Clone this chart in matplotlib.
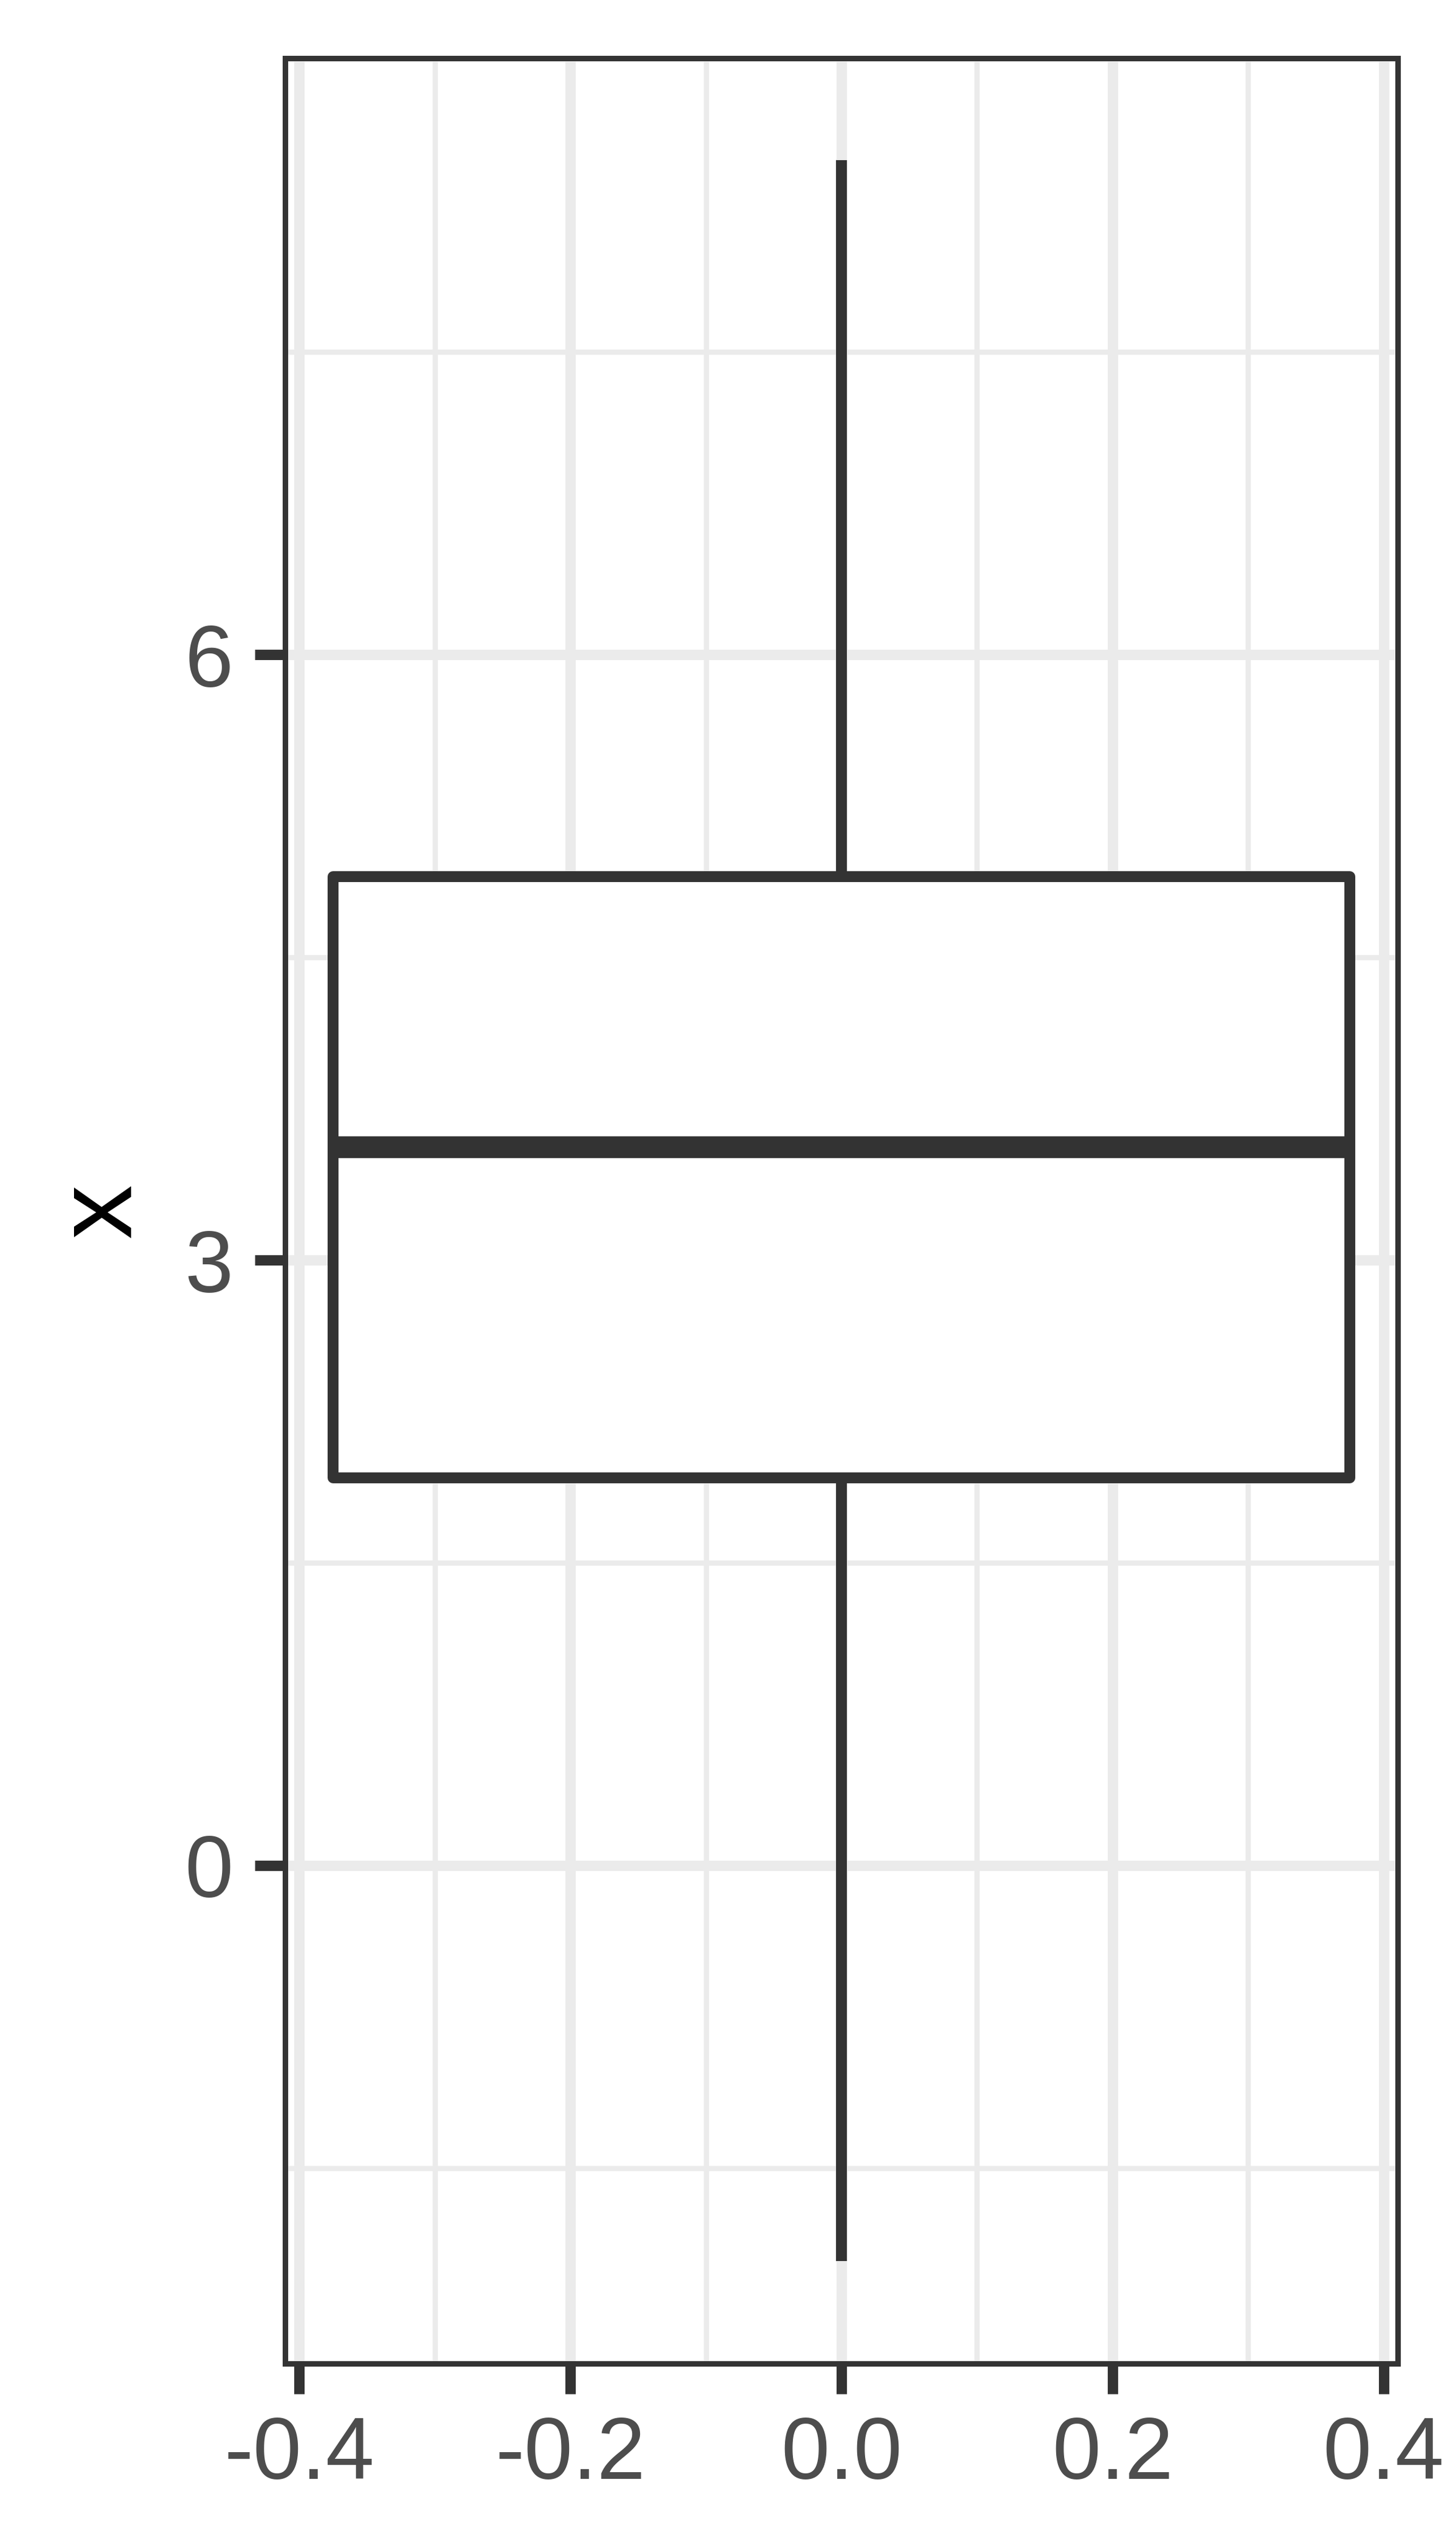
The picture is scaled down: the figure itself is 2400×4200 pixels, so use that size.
import matplotlib
matplotlib.use("Agg")
import matplotlib.pyplot as plt
from matplotlib.ticker import FixedLocator

# ---- data ----
group_pos = [0.0]
whisker_low = [-1.96]
q1 = [1.92]
median = [3.56]
q3 = [4.90]
whisker_high = [8.45]
box_width = 0.75

x_ticks = [-0.4, -0.2, 0.0, 0.2, 0.4]
x_tick_labels = ["-0.4", "-0.2", "0.0", "0.2", "0.4"]
x_minor = [-0.3, -0.1, 0.1, 0.3]
y_ticks = [0, 3, 6]
y_tick_labels = ["0", "3", "6"]
y_minor = [-1.5, 1.5, 4.5, 7.5]
y_title = "x"

plt.rcParams["font.family"] = ["Liberation Sans", "DejaVu Sans"]

W, H = 2400, 4200
fig = plt.figure(figsize=(8, 14), dpi=300)
# outer panel extent (px) and border inset so the border is drawn inside
left, right, top, bottom = 465.3, 2308.7, 91.3, 3900
inset = 4.4
ax = fig.add_axes([(left + inset) / W, 1 - (bottom - inset) / H,
                   (right - left - 2 * inset) / W, (bottom - top - 2 * inset) / H])

stats = []
for i in range(len(group_pos)):
    stats.append(dict(whislo=whisker_low[i], q1=q1[i], med=median[i], q3=q3[i],
                      whishi=whisker_high[i], fliers=[]))

dark = "#333333"
lw_box = 4.3
bp = ax.bxp(stats, positions=group_pos, widths=box_width, patch_artist=True,
            showcaps=False, showfliers=False, manage_ticks=False,
            boxprops=dict(facecolor="white", edgecolor=dark, linewidth=lw_box, joinstyle="round"),
            medianprops=dict(color=dark, linewidth=lw_box * 2, solid_capstyle="butt"),
            whiskerprops=dict(color=dark, linewidth=lw_box, solid_capstyle="butt"),
            zorder=3)

# ggplot-style 5% expansion over the outer panel, then trim the border inset
xlo = min(p - box_width / 2 for p in group_pos)
xhi = max(p + box_width / 2 for p in group_pos)
xr = xhi - xlo
xspan = 1.1 * xr
xin = inset * xspan / (right - left)
ax.set_xlim(xlo - 0.05 * xr + xin, xhi + 0.05 * xr - xin)
ylo, yhi = min(whisker_low), max(whisker_high)
yr = yhi - ylo
yspan = 1.1 * yr
yin = inset * yspan / (bottom - top)
ax.set_ylim(ylo - 0.05 * yr + yin, yhi + 0.05 * yr - yin)

ax.xaxis.set_major_locator(FixedLocator(x_ticks))
ax.set_xticklabels(x_tick_labels)
ax.xaxis.set_minor_locator(FixedLocator(x_minor))
ax.yaxis.set_major_locator(FixedLocator(y_ticks))
ax.set_yticklabels(y_tick_labels)
ax.yaxis.set_minor_locator(FixedLocator(y_minor))

grid_c = "#EBEBEB"
ax.set_axisbelow(True)
ax.grid(which="major", color=grid_c, linewidth=4.1)
ax.grid(which="minor", color=grid_c, linewidth=2.05)

ax.tick_params(which="major", length=12, width=4.1, color=dark,
               labelsize=34.5, labelcolor="#4D4D4D", pad=8.5)
ax.tick_params(which="minor", length=0, width=0)

for sp in ax.spines.values():
    sp.set_color(dark)
    sp.set_linewidth(2.16)
    sp.set_zorder(5)

fig.text(169 / W, 1 - ((top + bottom) / 2) / H, y_title, rotation=90,
         ha="center", va="center", fontsize=43, color="black")

fig.savefig("out.png", dpi=300, facecolor="white")
